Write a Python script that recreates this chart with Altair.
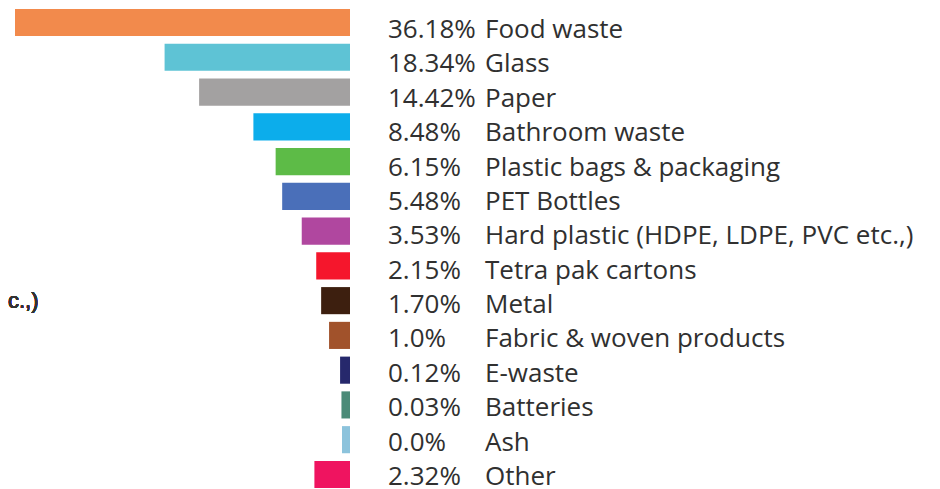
import altair as alt
import pandas as pd

categories = ["Food waste", "Glass", "Paper", "Bathroom waste", "Plastic bags & packaging",
              "PET Bottles", "Hard plastic (HDPE, LDPE, PVC etc.,)", "Tetra pak cartons",
              "Metal", "Fabric & woven products", "E-waste", "Batteries", "Ash", "Other"]
values = [36.18, 18.34, 14.42, 8.48, 6.15, 5.48, 3.53, 2.15, 1.70, 1.0, 0.12, 0.03, 0.0, 2.32]
pct_labels = ["36.18%", "18.34%", "14.42%", "8.48%", "6.15%", "5.48%", "3.53%", "2.15%",
              "1.70%", "1.0%", "0.12%", "0.03%", "0.0%", "2.32%"]
colors = ["#F28A4C", "#5EC3D5", "#A3A1A1", "#0CADEB", "#5DBB47", "#4A6FB9", "#B0479F",
          "#F5162C", "#3D1F0F", "#A1522B", "#26286C", "#4B8B78", "#8CC3DC", "#EF1460"]

BASE = -0.586

df = pd.DataFrame({"category": categories, "value": values, "pct": pct_labels,
                   "color": colors})

bar_scale = alt.Scale(domain=categories, paddingInner=0.22, paddingOuter=0)
y_bar = alt.Y("category:N", axis=None, scale=bar_scale)
# text rows in the reference sit on a slightly tighter pitch than the bars
y_txt = alt.Y("category:N", axis=None,
              scale=alt.Scale(domain=categories, paddingInner=0, paddingOuter=0,
                              range=[0, 481.3]))
x_scale = alt.Scale(type="pow", exponent=0.9, domain=[BASE, 36.18], reverse=True,
                    nice=False, zero=False)

bars = alt.Chart(df).mark_bar().encode(
    y=y_bar,
    x=alt.X("value:Q", scale=x_scale, axis=None),
    x2=alt.datum(BASE),
    color=alt.Color("color:N", scale=None),
)

FONT = "Open Sans"
FS = 26
TXT = "#303030"
pct = alt.Chart(df).mark_text(align="left", baseline="alphabetic", dx=38, dy=11.8,
                              font=FONT, fontSize=FS, color=TXT).encode(
    y=y_txt, x=alt.datum(BASE), text="pct:N")

names = alt.Chart(df).mark_text(align="left", baseline="alphabetic", dx=135, dy=11.8,
                                font=FONT, fontSize=FS, color=TXT).encode(
    y=y_txt, x=alt.datum(BASE), text="category:N")

frag = alt.Chart(df).mark_text(align="left", baseline="alphabetic", dx=-7, dy=8,
                               font="Liberation Sans", fontSize=22, color="#333333").encode(
    y=alt.YDatum("Metal", type="nominal", scale=bar_scale, axis=None),
    x=alt.XDatum(36.18, scale=x_scale, axis=None),
    text=alt.value("c.,)"))

chart = alt.layer(bars, frag, pct, names).resolve_scale(y="independent").properties(
    width=335, height=479,
    autosize=alt.AutoSizeParams(type="none"),
    padding={"left": 7, "top": 1, "right": 582, "bottom": 8},
).configure_view(stroke=None)

chart.save("out.html", embed_options={"renderer": "svg", "actions": False})
